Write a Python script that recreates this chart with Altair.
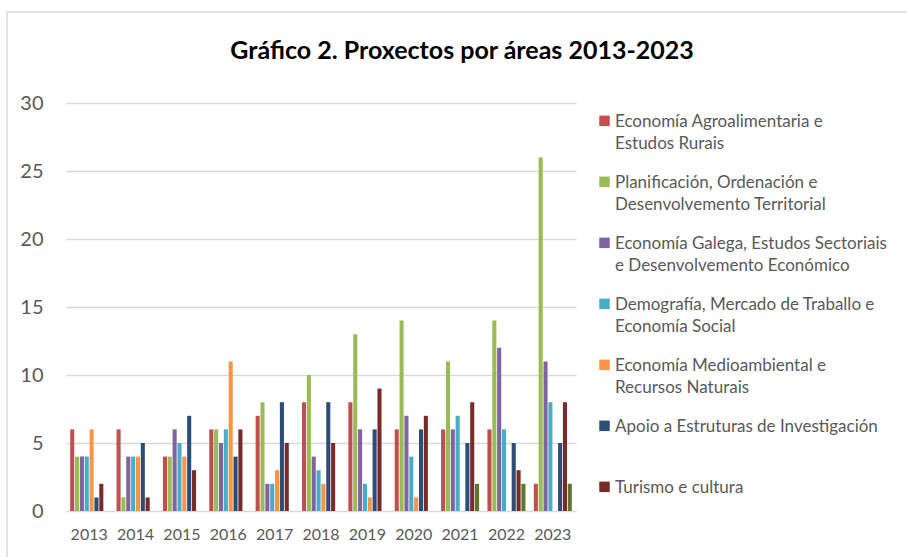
import json
import altair as alt
import pandas as pd

years = ["2013", "2014", "2015", "2016", "2017", "2018", "2019", "2020", "2021", "2022", "2023"]

legend_lines = [
    ["Economía Agroalimentaria e", "Estudos Rurais"],
    ["Planificación, Ordenación e", "Desenvolvemento Territorial"],
    ["Economía Galega, Estudos Sectoriais", "e Desenvolvemento Económico"],
    ["Demografía, Mercado de Traballo e", "Economía Social"],
    ["Economía Medioambiental e", "Recursos Naturais"],
    ["Apoio a Estruturas de Investigación", " "],
    ["Turismo e cultura"],
]
series = [" ".join(l).strip() for l in legend_lines] + ["Outros"]
colors = ["#c0504d", "#9bbb59", "#8064a2", "#4bacc6", "#f79646", "#2c4d75", "#772c2a", "#5f7530"]

agro = [6, 6, 4, 6, 7, 8, 8, 6, 6, 6, 2]
planif = [4, 1, 4, 6, 8, 10, 13, 14, 11, 14, 26]
galega = [4, 4, 6, 5, 2, 4, 6, 7, 6, 12, 11]
demog = [4, 4, 5, 6, 2, 3, 2, 4, 7, 6, 8]
medio = [6, 4, 4, 11, 3, 2, 1, 1, 0, 0, 0]
apoio = [1, 5, 7, 4, 8, 8, 6, 6, 5, 5, 5]
turismo = [2, 1, 3, 6, 5, 5, 9, 7, 8, 3, 8]
outros = [0, 0, 0, 0, 0, 0, 0, 0, 2, 2, 2]

values = [agro, planif, galega, demog, medio, apoio, turismo, outros]
rows = []
for s, vals in zip(series, values):
    for y, v in zip(years, vals):
        rows.append({"year": y, "serie": s, "value": v})
df = pd.DataFrame(rows)

label_map = {" ".join(l).strip(): l for l in legend_lines}
label_expr = json.dumps(label_map, ensure_ascii=False) + "[datum.label]"

FONT = "Lato"
W, H = 510, 408
OX, OY = 66, 103

bars = alt.Chart(df).mark_bar().encode(
    x=alt.X("year:N", sort=years, title=None,
            scale=alt.Scale(paddingInner=0.18, paddingOuter=0.09),
            axis=alt.Axis(labelAngle=0, ticks=False, domain=False, grid=False,
                          labelFontSize=16, labelColor="#595959", labelFont=FONT,
                          labelPadding=15)),
    xOffset=alt.XOffset("serie:N", sort=series,
                        scale=alt.Scale(domain=series, paddingInner=0.16, paddingOuter=0)),
    y=alt.Y("value:Q", title=None,
            scale=alt.Scale(domain=[0, 30], nice=False),
            axis=alt.Axis(values=[0, 5, 10, 15, 20, 25, 30], ticks=False, domain=False,
                          gridColor="#d9d9d9", gridWidth=1.3,
                          labelFontSize=20, labelColor="#595959", labelFont=FONT,
                          labelPadding=23)),
    color=alt.Color("serie:N",
                    scale=alt.Scale(domain=series, range=colors),
                    legend=alt.Legend(
                        title=None, values=series[:7], orient="none",
                        legendX=530, legendY=2, padding=0,
                        symbolType="M-1,0.4H1V2.4H-1Z", symbolSize=110,
                        symbolStrokeWidth=0, symbolOpacity=1,
                        labelExpr=label_expr, labelBaseline="top",
                        labelFont=FONT, labelFontSize=17, labelColor="#595959",
                        labelLimit=400, labelOffset=2, rowPadding=14,
                    )),
)

frame = alt.Chart(alt.Data(values=[{"a": 1}])).mark_rect(
    fill=None, stroke="#d9d9d9", strokeWidth=1.5, clip=False
).encode(
    x=alt.value(7 - OX), x2=alt.value(907 - OX + 10),
    y=alt.value(12 - OY), y2=alt.value(557 - OY + 10),
)

chart = alt.layer(frame, bars).properties(
    width=W, height=H,
    autosize=alt.AutoSizeParams(type="none"),
    padding={"left": OX, "top": OY, "right": 907 - OX - W, "bottom": 557 - OY - H},
    title=alt.TitleParams(
        "Gráfico 2. Proxectos por áreas 2013-2023",
        font=FONT, fontSize=25, fontWeight="bold", color="#000000",
        anchor="middle", dx=141, offset=0, dy=73, baseline="alphabetic",
    ),
).configure(
    style={"guide-label": {"lineHeight": 22}},
    view=alt.ViewConfig(stroke=None),
)

chart.save("out.html", embed_options={"renderer": "svg", "actions": False})
